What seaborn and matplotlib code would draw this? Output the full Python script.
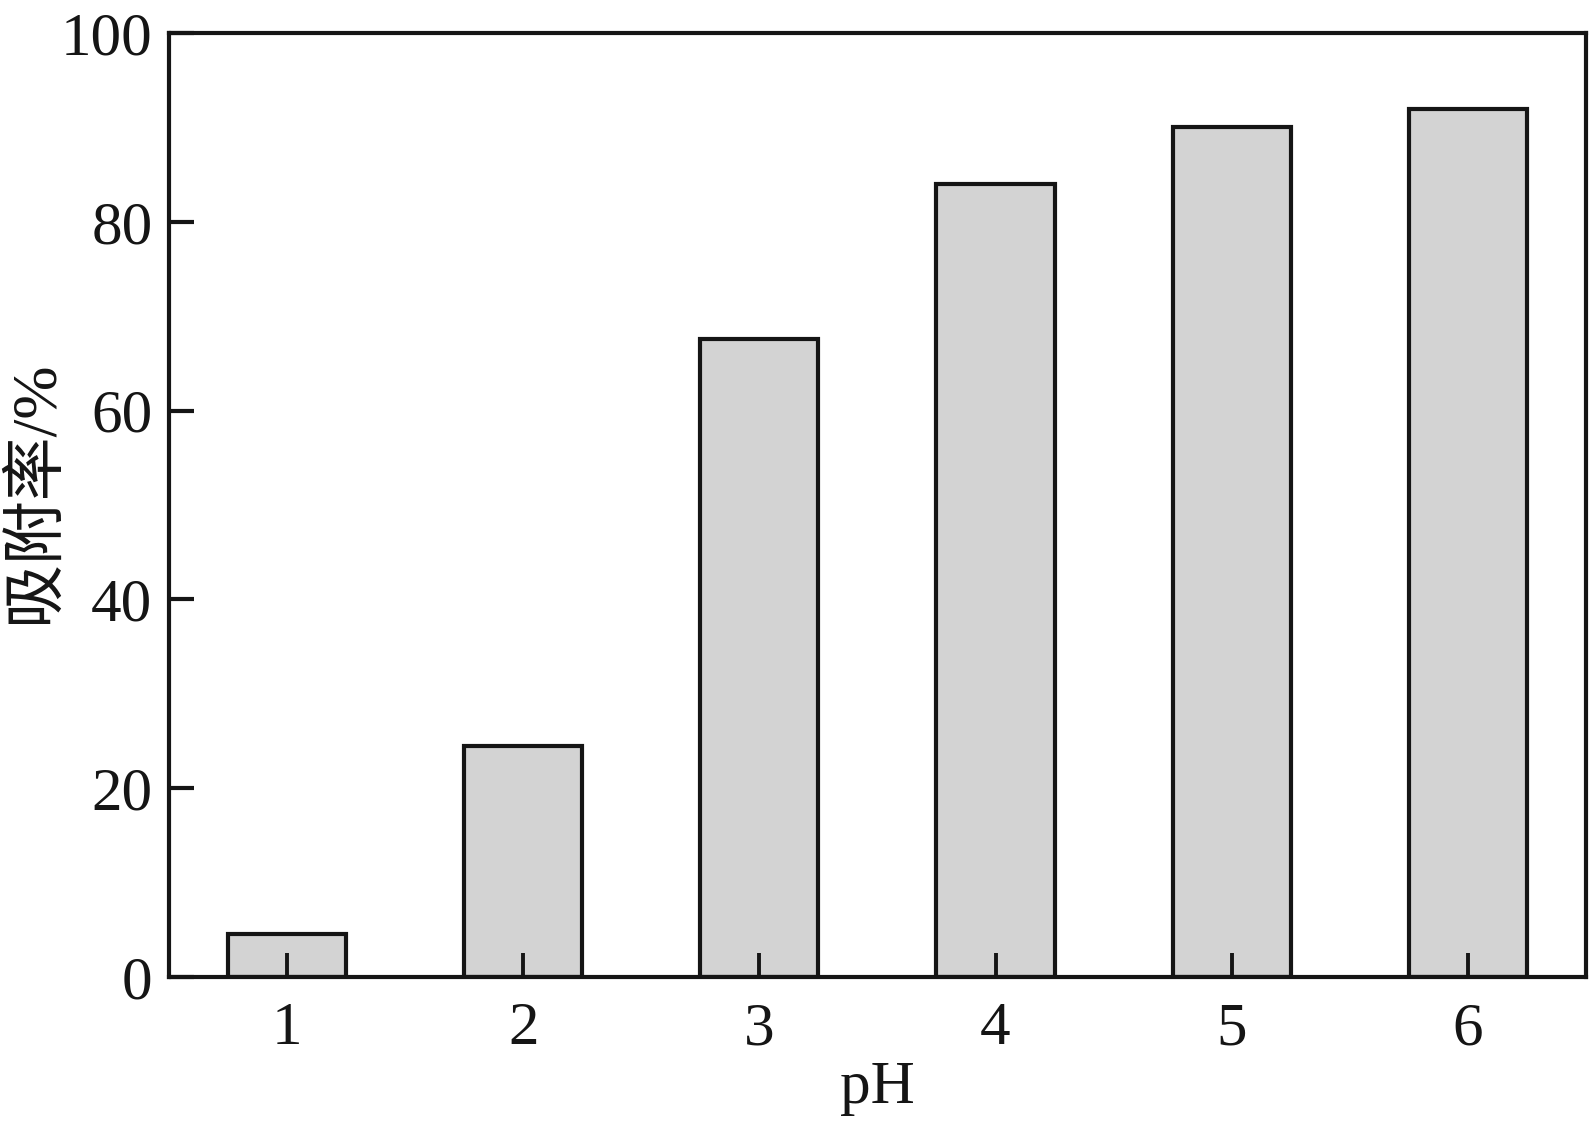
import matplotlib
matplotlib.use("Agg")
import matplotlib.pyplot as plt
import seaborn as sns
import pandas as pd

ph = ["1", "2", "3", "4", "5", "6"]
adsorption = [4.5, 24.5, 67.6, 84.0, 90.0, 92.0]
y_ticks = [0, 20, 40, 60, 80, 100]

plt.rcParams.update({
    'font.family': ['Liberation Serif', 'Noto Sans CJK SC'],
    'axes.unicode_minus': False,
    'axes.axisbelow': False,
    'text.color': '#151515',
    'axes.labelcolor': '#151515',
    'xtick.color': '#151515',
    'ytick.color': '#151515',
})

df = pd.DataFrame({'pH': ph, 'rate': adsorption})

fig = plt.figure(figsize=(15.89, 11.28), dpi=100)
ax = fig.add_axes([0.1064, 0.1339, 0.8916, 0.8368])

sns.barplot(data=df, x='pH', y='rate', color='#d3d3d3', saturation=1,
            width=0.5, edgecolor='#151515', linewidth=3, ax=ax)

ax.set_xlim(-0.5, 5.5)
ax.set_ylim(0, 100)
ax.set_yticks(y_ticks)
ax.set_xlabel('pH', fontsize=44, labelpad=2)
ax.set_ylabel('吸附率/%', fontsize=46)
ax.yaxis.set_label_coords(-0.073, 0.514)

for s in ax.spines.values():
    s.set_linewidth(3)
    s.set_color('#151515')

ax.tick_params(axis='x', direction='in', length=17, width=2.8, pad=18,
               labelsize=44, color='#151515', bottom=True, top=False)
ax.tick_params(axis='y', direction='in', length=18, width=3, pad=12,
               labelsize=44, color='#151515', left=True, right=False)

fig.savefig('out.png', dpi=100)
